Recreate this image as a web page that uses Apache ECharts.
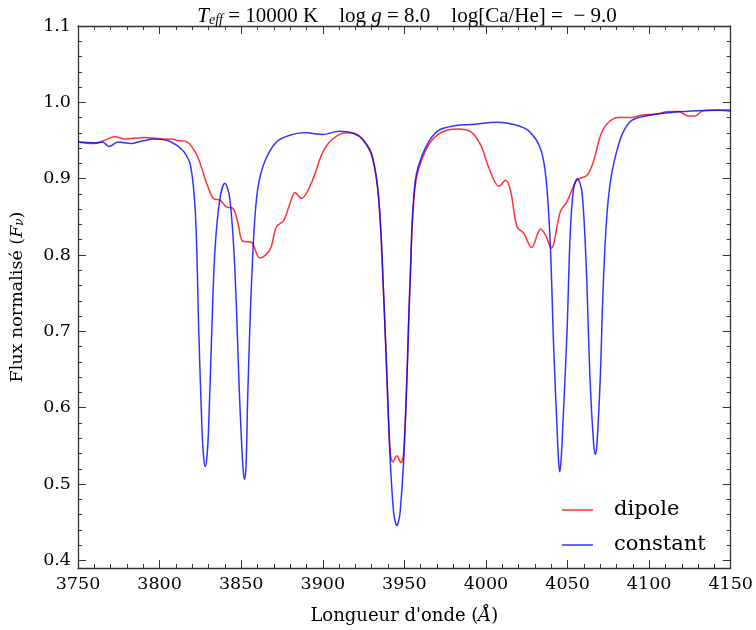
<!DOCTYPE html>
<html>
<head>
<meta charset="utf-8">
<script src="https://cdn.jsdelivr.net/npm/echarts@6/dist/echarts.min.js"></script>
<style>html,body{margin:0;padding:0;background:#fff}#c{width:756px;height:630px}</style>
</head>
<body>
<div id="c"></div>
<script>
// ---- data ----
const constWave = [3750,3760,3765,3769,3774.5,3782.6,3788.7,3796.7,3804.8,3811,3815,3819,3822,3824,3826,3827,3828,3829,3830,3832,3834,3837,3840,3843,3846,3849,3851,3852,3853,3854,3856.4,3859.4,3863.5,3871.6,3881.7,3890,3900,3910,3918,3925,3930.3,3934.3,3937.4,3939.4,3941.4,3943.4,3944.5,3945.4,3946.3,3947.4,3949.5,3951.5,3953.5,3956.6,3962.6,3970.7,3982.9,3991,4007,4017,4026,4033.5,4037,4039.5,4041.5,4043.6,4044.5,4045.2,4046,4047,4049.7,4051.7,4053.7,4056,4058.8,4061.4,4063.8,4066,4067,4068,4070,4072,4075,4080,4088,4100,4115,4130,4150];
const constFlux = [0.948,0.947,0.948,0.942,0.948,0.946,0.949,0.952,0.950,0.943,0.935,0.917,0.852,0.701,0.571,0.535,0.523,0.535,0.571,0.701,0.809,0.874,0.894,0.874,0.787,0.614,0.525,0.506,0.525,0.614,0.766,0.874,0.917,0.948,0.958,0.960,0.958,0.962,0.960,0.950,0.930,0.874,0.744,0.636,0.528,0.463,0.450,0.446,0.450,0.463,0.528,0.636,0.766,0.896,0.939,0.963,0.970,0.971,0.974,0.971,0.963,0.939,0.896,0.809,0.679,0.571,0.530,0.516,0.530,0.571,0.701,0.831,0.887,0.900,0.883,0.787,0.636,0.552,0.539,0.552,0.636,0.766,0.874,0.935,0.974,0.983,0.987,0.989,0.990];

const dipoleWave = [3750,3760,3766,3772.5,3778.5,3790.7,3802.8,3807,3811,3817,3823,3829,3833,3837,3841,3845,3848,3851,3856,3861.5,3867.6,3871.6,3876,3880,3883,3887,3891,3895,3899,3903,3908,3914,3920,3925,3930.3,3934.3,3937.4,3939.4,3941.4,3943,3945.4,3947.9,3949.5,3951.5,3953.5,3956.6,3962.6,3970.7,3982.9,3991,3997,4002,4008,4012,4015,4019,4023,4028,4033.5,4036.5,4040,4045.6,4049.7,4055.7,4061.8,4065.8,4071.9,4081,4088,4095,4105,4112,4118,4124,4128,4133,4142,4150];
const dipoleFlux = [0.948,0.946,0.950,0.955,0.952,0.954,0.952,0.952,0.950,0.948,0.930,0.893,0.874,0.872,0.863,0.861,0.842,0.818,0.817,0.796,0.807,0.837,0.845,0.868,0.882,0.874,0.885,0.905,0.930,0.945,0.955,0.960,0.959,0.950,0.928,0.872,0.742,0.634,0.540,0.529,0.537,0.528,0.540,0.634,0.762,0.890,0.935,0.958,0.965,0.961,0.943,0.913,0.890,0.898,0.885,0.837,0.829,0.810,0.834,0.826,0.809,0.857,0.870,0.898,0.904,0.922,0.965,0.980,0.980,0.983,0.985,0.988,0.988,0.982,0.982,0.989,0.990,0.988];

const yTickValues = [0.4,0.5,0.6,0.7,0.8,0.9,1.0,1.1];
const yMinorValues = [0.42,0.44,0.46,0.48,0.52,0.54,0.56,0.58,0.62,0.64,0.66,0.68,0.72,0.74,0.76,0.78,0.82,0.84,0.86,0.88,0.92,0.94,0.96,0.98,1.02,1.04,1.06,1.08];
const seriesNames = ['dipole','constant'];

// ---- chart ----
const zip = (a,b) => a.map((v,i)=>[v,b[i]]);
const axisColor = '#333';
const font = 'DejaVu Serif';
const chart = echarts.init(document.getElementById('c'), null, {renderer:'canvas'});

function yAxisBase(pos, labels, ticks, len, showLine){
  return {
    type:'value', position:pos, min:0.39, max:1.1,
    axisLine:{show:showLine, lineStyle:{color:axisColor,width:1.3}},
    splitLine:{show:false},
    axisTick:{show:true, inside:true, length:len, customValues:ticks, lineStyle:{color:axisColor,width:1}},
    axisLabel:{show:labels, customValues:yTickValues, color:'#000', fontFamily:font, fontSize:17.5, margin:7,
      formatter:v=>v.toFixed(1)}
  };
}

const option = {
  animation:false,
  title:{
    text:'{i|T}{sub|eff}{n| = 10000 K    log }{i|g}{n| = 8.0    log[Ca/He] =  − 9.0}',
    left:402, top:1, textAlign:'center',
    textStyle:{
      fontWeight:'normal',
      rich:{
        n:{fontFamily:'Liberation Serif', fontWeight:'normal', fontSize:21, color:'#000'},
        i:{fontFamily:'Liberation Serif', fontWeight:'normal', fontStyle:'italic', fontSize:21, color:'#000'},
        sub:{fontFamily:'Liberation Serif', fontWeight:'normal', fontStyle:'italic', fontSize:14, color:'#000', verticalAlign:'bottom', padding:[7,0,0,0]}
      }
    }
  },
  grid:{left:73, right:23, top:26, bottom:57, containLabel:false},
  legend:{
    data:seriesNames, orient:'vertical', left:557, top:493,
    icon:'rect', itemWidth:31, itemHeight:2, itemGap:11,
    textStyle:{fontFamily:font, fontSize:21, color:'#000', lineHeight:24, padding:[0,0,0,16]}
  },
  xAxis:[
    {
      type:'value', min:3750, max:4150, interval:50, position:'bottom',
      name:'{n|Longueur d\'onde (}{i|Å}{n|)}', nameLocation:'middle', nameGap:39,
      nameTextStyle:{rich:{n:{fontFamily:font,fontSize:18,color:'#000'}, i:{fontFamily:font,fontSize:18,fontStyle:'italic',color:'#000'}}},
      axisLine:{lineStyle:{color:axisColor,width:1.3}},
      splitLine:{show:false},
      axisTick:{inside:true, length:8, lineStyle:{color:axisColor}},
      minorTick:{show:true, splitNumber:5, length:4, lineStyle:{color:axisColor}},
      axisLabel:{color:'#000', fontFamily:font, fontSize:17.5, margin:7, formatter:v=>String(v)}
    },
    {
      type:'value', min:3750, max:4150, interval:50, position:'top',
      axisLine:{lineStyle:{color:axisColor,width:1.3}},
      splitLine:{show:false},
      axisTick:{inside:true, length:8, lineStyle:{color:axisColor}},
      minorTick:{show:true, splitNumber:5, length:4, lineStyle:{color:axisColor}},
      axisLabel:{show:false}
    }
  ],
  yAxis:[
    Object.assign(yAxisBase('left', true, yTickValues, 8, true), {
      name:'{n|Flux normalisé (}{i|F}{sub|ν}{n|)}', nameLocation:'middle', nameGap:52,
      nameTextStyle:{rich:{
        n:{fontFamily:font,fontSize:17.5,color:'#000'},
        i:{fontFamily:font,fontSize:17.5,fontStyle:'italic',color:'#000'},
        sub:{fontFamily:font,fontSize:12,fontStyle:'italic',color:'#000',verticalAlign:'bottom',padding:[5,0,0,0]}
      }}
    }),
    yAxisBase('right', false, yTickValues, 8, true),
    yAxisBase('left', false, yMinorValues, 4, false),
    yAxisBase('right', false, yMinorValues, 4, false)
  ],
  series:[
    {name:seriesNames[0], type:'line', data:zip(dipoleWave,dipoleFlux), showSymbol:false, symbol:'none', smooth:0.35,
     lineStyle:{color:'rgba(255,0,0,0.8)', width:1.5}, itemStyle:{color:'rgba(255,0,0,0.6)'}, z:3},
    {name:seriesNames[1], type:'line', data:zip(constWave,constFlux), showSymbol:false, symbol:'none', smooth:0.35,
     lineStyle:{color:'rgba(0,0,255,0.8)', width:1.5}, itemStyle:{color:'rgba(0,0,255,0.6)'}, z:4}
  ]
};
chart.setOption(option);
</script>
</body>
</html>
